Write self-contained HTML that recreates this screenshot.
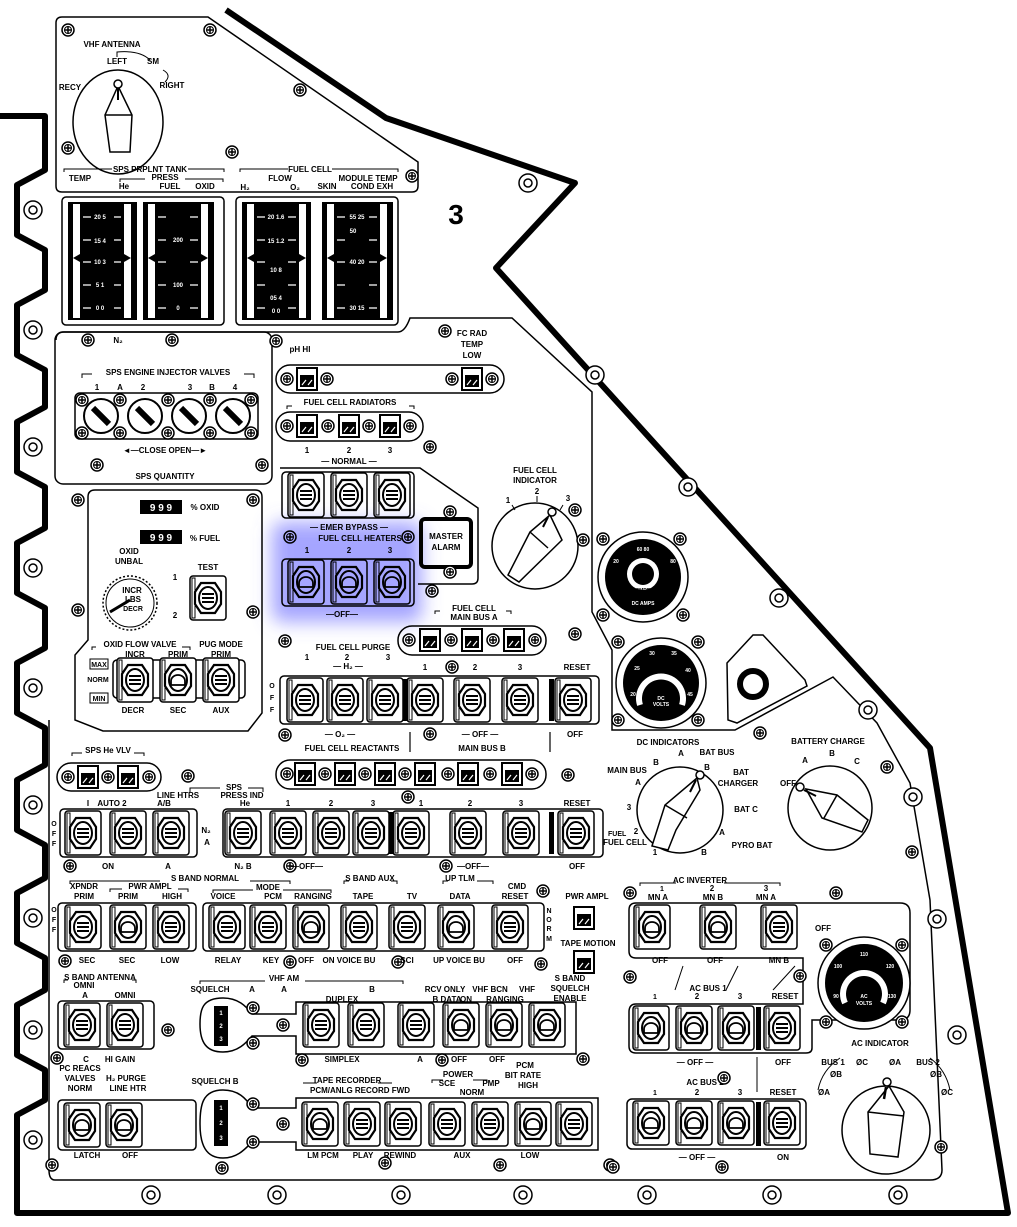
<!DOCTYPE html>
<html><head><meta charset="utf-8"><style>
html,body{margin:0;padding:0;background:#fff;}
svg{display:block}
text{font-family:"Liberation Sans",sans-serif;font-weight:bold;font-size:8px;fill:#000;text-anchor:middle}
.s{font-size:7px}
</style></head><body>
<svg width="1017" height="1227" viewBox="0 0 1017 1227" xmlns="http://www.w3.org/2000/svg">
<defs>
<g id="tg"><rect x="-18" y="-22" width="36" height="44" rx="3" fill="#fff" stroke="#000" stroke-width="1.5"/><rect x="-16" y="-20" width="3" height="40" fill="none" stroke="#000" stroke-width="1"/><polygon points="-7,-15 7,-15 13,-6 13,6 7,15 -7,15 -13,6 -13,-6" fill="#fff" stroke="#000" stroke-width="2.2"/><ellipse rx="9" ry="11" fill="none" stroke="#000" stroke-width="2"/><path d="M-6,-4h12M-6,0h12M-6,4h12" stroke="#000" stroke-width="2"/></g>
<g id="tl"><rect x="-18" y="-22" width="36" height="44" rx="3" fill="#fff" stroke="#000" stroke-width="1.5"/><rect x="-16" y="-20" width="3" height="40" fill="none" stroke="#000" stroke-width="1"/><polygon points="-7,-15 7,-15 13,-6 13,6 7,15 -7,15 -13,6 -13,-6" fill="#fff" stroke="#000" stroke-width="2.2"/><ellipse rx="9" ry="11" fill="none" stroke="#000" stroke-width="2"/><path d="M-7,5h14v-4a7,6 0 0 0 -14,0z" fill="#fff" stroke="#000" stroke-width="1.8"/></g>
<g id="ind"><rect x="-10" y="-11" width="20" height="22" fill="#fff" stroke="#000" stroke-width="2"/><rect x="-7" y="-4" width="14" height="12" fill="#000"/><path d="M-5,6l4,-5M1,6l4,-5" stroke="#fff" stroke-width="1.2"/></g>
<g id="sp"><circle r="6" fill="#fff" stroke="#000" stroke-width="1.5"/><circle r="3.5" fill="none" stroke="#000" stroke-width="1"/><path d="M-3,0h6M0,-3v6" stroke="#000" stroke-width="1.5"/></g>
<g id="sr"><circle r="9" fill="#fff" stroke="#000" stroke-width="1.5"/><circle r="4" fill="none" stroke="#000" stroke-width="1.5"/></g>
<filter id="bl" x="-30%" y="-30%" width="160%" height="160%"><feGaussianBlur stdDeviation="9"/></filter>
</defs>

<path d="M0,116 L45,116 L45,170 L17,185 L17,235 L45,250 L45,290 L17,305 L17,355 L45,370 L45,407 L17,422 L17,472 L45,487 L45,528 L17,543 L17,593 L45,608 L45,648 L17,663 L17,713 L45,728 L45,765 L17,780 L17,830 L45,845 L45,878 L17,893 L17,943 L45,958 L45,990 L17,1005 L17,1055 L45,1070 L45,1100 L17,1115 L17,1213 L1008,1213 L930,748 L496,268 L575,183 L386,118 L226,10" fill="none" stroke="#000" stroke-width="6" stroke-linejoin="round"/>

<path d="M62,17 H208 L418,162 V186 Q418,192 412,192 H62 Q56,192 56,186 V23 Q56,17 62,17Z" fill="none" stroke="#000" stroke-width="1.5"/>
<rect x="62" y="197" width="162" height="128" rx="4" fill="none" stroke="#000" stroke-width="1.5"/>
<rect x="236" y="197" width="162" height="128" rx="4" fill="none" stroke="#000" stroke-width="1.5"/>
<path d="M56,340 Q56,332 64,332 H398 Q405,332 410,318 H512 L592,392 V612 L612,650 V730 H735 L833,677 L877,723 L910,783 L930,900 L942,1170 Q942,1180 930,1180 H55 Q49,1180 49,1170 V720" fill="none" stroke="#000" stroke-width="1.5"/>
<rect x="55" y="332" width="217" height="152" rx="8" fill="none" stroke="#000" stroke-width="1.5"/>
<path d="M95,490 H255 Q262,490 262,497 V713 L248,731 H103 L75,720 V655 L88,640 V497 Q88,490 95,490Z" fill="none" stroke="#000" stroke-width="1.5"/>
<path d="M280,468 H420 L478,508 V578 Q478,584 472,584 H418" fill="none" stroke="#000" stroke-width="1.5"/>
<path d="M727,663 L753,635 L763,635 L805,680 L807,686 L737,723 L728,720Z" fill="none" stroke="#000" stroke-width="1.5"/>
<circle cx="753" cy="684" r="13" fill="none" stroke="#000" stroke-width="6"/>

<text x="112" y="47">VHF ANTENNA</text>
<text x="117" y="64">LEFT</text><text x="153" y="64">SM</text><text x="70" y="90">RECY</text><text x="172" y="88">RIGHT</text>
<path d="M117,57 V52 Q140,50 150,60 M163,70 Q172,75 165,82" fill="none" stroke="#000" stroke-width="1"/>
<ellipse cx="118" cy="122" rx="45" ry="52" fill="#fff" stroke="#000" stroke-width="1.5"/>
<path d="M118,86 L132,115 L130,152 L110,152 L105,115Z M105,115 H132" fill="#fff" stroke="#000" stroke-width="1.5"/>
<circle cx="118" cy="84" r="4" fill="#fff" stroke="#000" stroke-width="1.5"/><path d="M118,88v12" stroke="#000" stroke-width="2"/>
<use href="#sp" x="68" y="30"/><use href="#sp" x="210" y="30"/><use href="#sp" x="68" y="148"/><use href="#sp" x="232" y="152"/><use href="#sp" x="300" y="90"/><use href="#sp" x="412" y="176"/>
<text x="150" y="172">SPS PRPLNT TANK</text><path d="M64,172v-3h48 M188,169h36v3" fill="none" stroke="#000"/>
<text x="80" y="181">TEMP</text><text x="165" y="180">PRESS</text><path d="M120,182v-3h25 M185,179h38v3" fill="none" stroke="#000"/>
<text x="124" y="189">He</text><text x="170" y="189">FUEL</text><text x="205" y="189">OXID</text>
<text x="310" y="172">FUEL CELL</text><path d="M240,172v-3h48 M332,169h66v3" fill="none" stroke="#000"/>
<text x="280" y="181">FLOW</text><text x="368" y="181">MODULE TEMP</text>
<text x="245" y="190">H₂</text><text x="295" y="190">O₂</text><text x="327" y="189">SKIN</text><text x="372" y="189">COND EXH</text>
<text x="456" y="224" style="font-size:28px">3</text>

<g>
<rect x="68" y="202" width="69" height="118" fill="#000"/><rect x="73" y="204" width="7" height="114" fill="#fff"/><rect x="124" y="204" width="7" height="114" fill="#fff"/>
<rect x="143" y="202" width="71" height="118" fill="#000"/><rect x="148" y="204" width="7" height="114" fill="#fff"/><rect x="201" y="204" width="7" height="114" fill="#fff"/>
<rect x="242" y="202" width="69" height="118" fill="#000"/><rect x="247" y="204" width="7" height="114" fill="#fff"/><rect x="299" y="204" width="7" height="114" fill="#fff"/>
<rect x="322" y="202" width="71" height="118" fill="#000"/><rect x="327" y="204" width="7" height="114" fill="#fff"/><rect x="380" y="204" width="7" height="114" fill="#fff"/>
<g stroke="#fff" stroke-width="1.2">
<path d="M83,217h8M83,240h8M83,262h8M83,285h8M83,308h8M114,217h7M114,240h7M114,262h7M114,285h7M114,308h7"/>
<path d="M158,217h8M158,240h8M158,262h8M158,285h8M158,308h8M190,217h8M190,240h8M190,262h8M190,285h8M190,308h8"/>
<path d="M257,217h8M257,240h8M257,262h8M257,285h8M257,308h8M288,217h8M288,240h8M288,262h8M288,285h8M288,308h8"/>
<path d="M337,217h8M337,240h8M337,262h8M337,285h8M337,308h8M369,217h8M369,240h8M369,262h8M369,285h8M369,308h8"/>
</g>
<text x="100" y="219" style="font-size:6px;fill:#fff">20  5</text><text x="100" y="243" style="font-size:6px;fill:#fff">15  4</text><text x="100" y="264" style="font-size:6px;fill:#fff">10  3</text><text x="100" y="287" style="font-size:6px;fill:#fff">5  1</text><text x="100" y="310" style="font-size:6px;fill:#fff">0  0</text>
<text x="178" y="242" style="font-size:6px;fill:#fff">200</text><text x="178" y="287" style="font-size:6px;fill:#fff">100</text><text x="178" y="310" style="font-size:6px;fill:#fff">0</text>
<text x="276" y="219" style="font-size:6px;fill:#fff">20 1.6</text><text x="276" y="243" style="font-size:6px;fill:#fff">15 1.2</text><text x="276" y="272" style="font-size:6px;fill:#fff">10  8</text><text x="276" y="300" style="font-size:6px;fill:#fff">05  4</text><text x="276" y="313" style="font-size:6px;fill:#fff">0  0</text>
<text x="357" y="219" style="font-size:6px;fill:#fff">55 25</text><text x="353" y="233" style="font-size:6px;fill:#fff">50</text><text x="357" y="264" style="font-size:6px;fill:#fff">40 20</text><text x="357" y="310" style="font-size:6px;fill:#fff">30 15</text>
<path d="M73,258l7,-4v8z M131,258l-7,-4v8z M148,258l7,-4v8z M208,258l-7,-4v8z M247,258l7,-4v8z M306,258l-7,-4v8z M327,258l7,-4v8z M387,258l-7,-4v8z" fill="#000"/>
</g>

<use href="#sr" x="528" y="183"/><use href="#sr" x="595" y="375"/><use href="#sr" x="688" y="487"/><use href="#sr" x="779" y="598"/><use href="#sr" x="868" y="710"/><use href="#sr" x="913" y="797"/><use href="#sr" x="937" y="919"/><use href="#sr" x="957" y="1035"/>
<use href="#sr" x="33" y="210"/><use href="#sr" x="33" y="330"/><use href="#sr" x="33" y="447"/><use href="#sr" x="33" y="568"/><use href="#sr" x="33" y="688"/><use href="#sr" x="33" y="805"/><use href="#sr" x="33" y="918"/><use href="#sr" x="33" y="1030"/><use href="#sr" x="33" y="1140"/>
<use href="#sr" x="151" y="1195"/><use href="#sr" x="277" y="1195"/><use href="#sr" x="401" y="1195"/><use href="#sr" x="523" y="1195"/><use href="#sr" x="647" y="1195"/><use href="#sr" x="772" y="1195"/><use href="#sr" x="898" y="1195"/>

<text x="118" y="343">N₂</text>
<use href="#sp" x="88" y="340"/><use href="#sp" x="172" y="340"/><use href="#sp" x="276" y="341"/>
<text x="168" y="375">SPS ENGINE INJECTOR VALVES</text><path d="M82,378v-4h10 M244,374h10v4" fill="none" stroke="#000"/>
<text x="97" y="390">1</text><text x="120" y="390">A</text><text x="143" y="390">2</text><text x="190" y="390">3</text><text x="212" y="390">B</text><text x="235" y="390">4</text>
<rect x="75" y="393" width="183" height="46" rx="5" fill="none" stroke="#000" stroke-width="1.5"/>
<g fill="#fff" stroke="#000" stroke-width="2">
<circle cx="101" cy="416" r="17"/><circle cx="145" cy="416" r="17"/><circle cx="189" cy="416" r="17"/><circle cx="233" cy="416" r="17"/>
</g>
<path d="M93,408l16,16M137,408l16,16M181,408l16,16M225,408l16,16" stroke="#000" stroke-width="6"/>
<use href="#sp" x="82" y="400"/><use href="#sp" x="120" y="400"/><use href="#sp" x="82" y="433"/><use href="#sp" x="120" y="433"/><use href="#sp" x="168" y="400"/><use href="#sp" x="210" y="400"/><use href="#sp" x="168" y="433"/><use href="#sp" x="251" y="400"/><use href="#sp" x="251" y="433"/><use href="#sp" x="210" y="433"/>
<text x="165" y="453">◄—CLOSE    OPEN—►</text>
<use href="#sp" x="97" y="465"/><use href="#sp" x="262" y="465"/>
<text x="165" y="479">SPS QUANTITY</text>

<use href="#sp" x="78" y="500"/><use href="#sp" x="253" y="500"/><use href="#sp" x="78" y="610"/><use href="#sp" x="253" y="612"/>
<rect x="140" y="500" width="42" height="14" fill="#000"/><text x="161" y="511" style="fill:#fff;font-size:10px">9 9 9</text><text x="205" y="510">% OXID</text>
<rect x="140" y="530" width="42" height="14" fill="#000"/><text x="161" y="541" style="fill:#fff;font-size:10px">9 9 9</text><text x="205" y="541">% FUEL</text>
<text x="129" y="554">OXID</text><text x="129" y="564">UNBAL</text>
<circle cx="130" cy="603" r="27" fill="#fff" stroke="#000" stroke-width="1.5" stroke-dasharray="2 2"/>
<circle cx="130" cy="603" r="24" fill="none" stroke="#000" stroke-width="1"/>
<text x="132" y="593">INCR</text><text x="133" y="602">LBS</text><text x="133" y="611" style="font-size:7px">DECR</text>
<path d="M110,612L130,600" stroke="#000" stroke-width="3"/>
<text x="208" y="570">TEST</text><text x="175" y="580">1</text><text x="175" y="618">2</text>
<use href="#tg" x="208" y="598"/>
<text x="140" y="647">OXID FLOW VALVE</text><text x="221" y="647">PUG MODE</text><path d="M92,650v-3h4 M182,647h8v3" fill="none" stroke="#000"/>
<text x="135" y="657">INCR</text><text x="178" y="657">PRIM</text><text x="221" y="657">PRIM</text>
<rect x="113" y="660" width="132" height="38" rx="4" fill="none" stroke="#000" stroke-width="1.5"/>
<use href="#tg" x="135" y="680"/><use href="#tl" x="178" y="680"/><use href="#tg" x="221" y="680"/>
<rect x="90" y="659" width="18" height="10" fill="#fff" stroke="#000"/><text x="99" y="667" style="font-size:7px">MAX</text><text x="98" y="682" style="font-size:7px">NORM</text><rect x="90" y="693" width="18" height="10" fill="#fff" stroke="#000"/><text x="99" y="701" style="font-size:7px">MIN</text>
<text x="133" y="713">DECR</text><text x="178" y="713">SEC</text><text x="221" y="713">AUX</text>

<text x="300" y="352">pH HI</text><text x="472" y="336">FC RAD</text><text x="472" y="347">TEMP</text><text x="472" y="358">LOW</text>
<use href="#sp" x="445" y="331"/>
<rect x="276" y="365" width="228" height="28" rx="14" fill="none" stroke="#000" stroke-width="1.5"/>
<use href="#sp" x="287" y="379"/><use href="#ind" x="307" y="379"/><use href="#sp" x="327" y="379"/><use href="#sp" x="452" y="379"/><use href="#ind" x="472" y="379"/><use href="#sp" x="492" y="379"/>
<text x="350" y="405">FUEL CELL RADIATORS</text><path d="M287,409v-3h5 M409,406h5v3" fill="none" stroke="#000"/>
<rect x="276" y="412" width="147" height="29" rx="14" fill="none" stroke="#000" stroke-width="1.5"/>
<use href="#sp" x="287" y="426"/><use href="#ind" x="307" y="426"/><use href="#sp" x="328" y="426"/><use href="#ind" x="349" y="426"/><use href="#sp" x="369" y="426"/><use href="#ind" x="390" y="426"/><use href="#sp" x="410" y="426"/>
<use href="#sp" x="430" y="447"/>
<text x="307" y="453">1</text><text x="349" y="453">2</text><text x="390" y="453">3</text>
<text x="349" y="464">— NORMAL —</text>
<rect x="282" y="472" width="132" height="46" rx="4" fill="none" stroke="#000" stroke-width="1.5"/>
<use href="#tg" x="306" y="495"/><use href="#tg" x="349" y="495"/><use href="#tg" x="392" y="495"/>
<text x="349" y="530">— EMER BYPASS —</text><text x="360" y="541">FUEL CELL HEATERS</text>
<use href="#sp" x="290" y="537"/><use href="#sp" x="408" y="537"/>
<text x="307" y="553">1</text><text x="349" y="553">2</text><text x="390" y="553">3</text>
<rect x="282" y="559" width="132" height="47" rx="4" fill="none" stroke="#000" stroke-width="1.5"/>
<use href="#tl" x="306" y="582"/><use href="#tl" x="349" y="582"/><use href="#tl" x="392" y="582"/>
<text x="342" y="617">—OFF—</text>
<rect x="421" y="519" width="50" height="48" rx="4" fill="#fff" stroke="#000" stroke-width="4"/>
<text x="446" y="539">MASTER</text><text x="446" y="550">ALARM</text>
<use href="#sp" x="450" y="512"/><use href="#sp" x="450" y="572"/><use href="#sp" x="432" y="591"/>
<text x="474" y="611">FUEL CELL</text><text x="474" y="620">MAIN BUS A</text><path d="M435,614v-3h5 M506,611h5v3" fill="none" stroke="#000"/>
<rect x="398" y="626" width="148" height="29" rx="14" fill="none" stroke="#000" stroke-width="1.5"/>
<use href="#sp" x="409" y="640"/><use href="#ind" x="430" y="640"/><use href="#sp" x="451" y="640"/><use href="#ind" x="472" y="640"/><use href="#sp" x="493" y="640"/><use href="#ind" x="514" y="640"/><use href="#sp" x="535" y="640"/>
<use href="#sp" x="285" y="641"/><use href="#sp" x="575" y="634"/>
<text x="353" y="650">FUEL CELL PURGE</text>
<text x="307" y="660">1</text><text x="347" y="660">2</text><text x="388" y="660">3</text><text x="348" y="669">— H₂ —</text>
<text x="425" y="670">1</text><use href="#sp" x="452" y="667"/><text x="475" y="670">2</text><text x="520" y="670">3</text><text x="577" y="670">RESET</text>
<text x="272" y="688" class="s">O</text><text x="272" y="700" class="s">F</text><text x="272" y="712" class="s">F</text>
<rect x="280" y="676" width="319" height="48" rx="4" fill="none" stroke="#000" stroke-width="1.5"/>
<use href="#tg" x="305" y="700"/><use href="#tg" x="345" y="700"/><use href="#tg" x="385" y="700"/><use href="#tg" x="425" y="700"/><use href="#tg" x="472" y="700"/><use href="#tg" x="520" y="700"/><use href="#tg" x="573" y="700"/>
<rect x="403" y="679" width="5" height="42" fill="#000"/><rect x="549" y="679" width="5" height="42" fill="#000"/>
<use href="#sp" x="285" y="735"/><use href="#sp" x="430" y="734"/>
<text x="340" y="737">— O₂ —</text><text x="352" y="751">FUEL CELL REACTANTS</text>
<text x="480" y="737">— OFF —</text><text x="482" y="751">MAIN BUS B</text><text x="575" y="737">OFF</text>
<path d="M410,732v20M550,732v20" stroke="#000" stroke-width="1.2"/>
<rect x="276" y="760" width="270" height="29" rx="14" fill="none" stroke="#000" stroke-width="1.5"/>
<use href="#sp" x="287" y="774"/><use href="#ind" x="305" y="774"/><use href="#sp" x="325" y="774"/><use href="#ind" x="345" y="774"/><use href="#sp" x="365" y="774"/><use href="#ind" x="385" y="774"/><use href="#sp" x="405" y="774"/><use href="#ind" x="425" y="774"/><use href="#sp" x="448" y="774"/><use href="#ind" x="468" y="774"/><use href="#sp" x="490" y="774"/><use href="#ind" x="512" y="774"/><use href="#sp" x="532" y="774"/>
<use href="#sp" x="568" y="775"/>

<text x="535" y="473">FUEL CELL</text><text x="535" y="483">INDICATOR</text>
<text x="508" y="503">1</text><text x="537" y="494">2</text><text x="568" y="501">3</text>
<circle cx="535" cy="546" r="43" fill="#fff" stroke="#000" stroke-width="1.5"/>
<path d="M512,505l3,5M537,496v6M563,505l-3,5" stroke="#000"/>
<path d="M550,515 L562,540 L519,582 L508,575 L530,532Z M530,532 L548,548" fill="#fff" stroke="#000" stroke-width="1.5"/>
<circle cx="552" cy="512" r="4" fill="#fff" stroke="#000" stroke-width="1.5"/><path d="M548,517l-5,10" stroke="#000" stroke-width="2"/>
<use href="#sp" x="575" y="510"/><use href="#sp" x="583" y="540"/>

<use href="#sp" x="603" y="539"/><use href="#sp" x="680" y="539"/><use href="#sp" x="603" y="615"/><use href="#sp" x="683" y="615"/>
<circle cx="643" cy="577" r="45" fill="#fff" stroke="#000" stroke-width="1.5"/><circle cx="643" cy="577" r="38" fill="#000"/>
<circle cx="643" cy="574" r="16" fill="#fff"/><circle cx="643" cy="574" r="11" fill="#000"/>
<text x="643" y="551" style="fill:#fff;font-size:5px">60  80</text><text x="616" y="563" style="fill:#fff;font-size:5px">20</text><text x="673" y="563" style="fill:#fff;font-size:5px">80</text><text x="643" y="605" style="fill:#fff;font-size:5px">DC AMPS</text><text x="643" y="592" style="fill:#000;font-size:5px">CMRB</text>
<use href="#sp" x="618" y="642"/><use href="#sp" x="698" y="642"/><use href="#sp" x="618" y="720"/><use href="#sp" x="698" y="720"/>
<circle cx="661" cy="683" r="45" fill="#fff" stroke="#000" stroke-width="1.5"/><circle cx="661" cy="683" r="38" fill="#000"/>
<path d="M640,705 A22,22 0 1 1 682,705" fill="none" stroke="#fff" stroke-width="6"/>
<text x="661" y="700" style="fill:#fff;font-size:5px">DC</text><text x="661" y="706" style="fill:#fff;font-size:5px">VOLTS</text>
<text x="652" y="655" style="fill:#fff;font-size:5px">30</text><text x="674" y="655" style="fill:#fff;font-size:5px">35</text><text x="637" y="670" style="fill:#fff;font-size:5px">25</text><text x="688" y="672" style="fill:#fff;font-size:5px">40</text><text x="633" y="696" style="fill:#fff;font-size:5px">20</text><text x="690" y="696" style="fill:#fff;font-size:5px">45</text>

<use href="#sp" x="760" y="733"/><use href="#sp" x="887" y="767"/><use href="#sp" x="912" y="852"/>
<text x="668" y="745">DC INDICATORS</text>
<text x="717" y="755">BAT BUS</text><text x="681" y="756">A</text><text x="656" y="765">B</text><text x="627" y="773">MAIN BUS</text><text x="638" y="785">A</text><text x="707" y="770">B</text>
<text x="741" y="775">BAT</text><text x="738" y="786">CHARGER</text><text x="629" y="810">3</text><text x="746" y="812">BAT C</text>
<text x="636" y="834">2</text><text x="625" y="845">FUEL CELL</text><text x="655" y="855">1</text><text x="722" y="835">A</text><text x="752" y="848">PYRO BAT</text><text x="704" y="855">B</text>
<circle cx="680" cy="810" r="43" fill="#fff" stroke="#000" stroke-width="1.5"/>
<path d="M697,778 L700,790 L676,830 L668,850 L652,846 L665,805Z M665,805 L687,818" fill="#fff" stroke="#000" stroke-width="1.5"/>
<circle cx="700" cy="775" r="4" fill="#fff" stroke="#000" stroke-width="1.5"/><path d="M696,780l-6,12" stroke="#000" stroke-width="2"/>
<text x="828" y="744">BATTERY CHARGE</text><text x="805" y="763">A</text><text x="832" y="756">B</text><text x="857" y="764">C</text><text x="788" y="786">OFF</text>
<circle cx="830" cy="808" r="42" fill="#fff" stroke="#000" stroke-width="1.5"/>
<path d="M806,789 L837,795 L868,820 L862,832 L822,818Z M837,795 L824,818" fill="#fff" stroke="#000" stroke-width="1.5"/>
<circle cx="800" cy="787" r="4" fill="#fff" stroke="#000" stroke-width="1.5"/><path d="M804,790l12,6" stroke="#000" stroke-width="2"/>

<text x="108" y="753">SPS He VLV</text><path d="M72,756v-3h10 M134,753h10v3" fill="none" stroke="#000"/>
<rect x="57" y="763" width="104" height="28" rx="14" fill="none" stroke="#000" stroke-width="1.5"/>
<use href="#sp" x="68" y="777"/><use href="#ind" x="88" y="777"/><use href="#sp" x="108" y="777"/><use href="#ind" x="128" y="777"/><use href="#sp" x="149" y="777"/>
<use href="#sp" x="188" y="776"/>
<text x="234" y="790">SPS</text><path d="M190,792v-4h30 M248,788h15v4" fill="none" stroke="#000"/>
<text x="178" y="798">LINE HTRS</text><text x="164" y="806">A/B</text><text x="242" y="798">PRESS IND</text><text x="245" y="806">He</text>
<text x="88" y="806">I</text><text x="112" y="806">AUTO 2</text>
<text x="288" y="806">1</text><text x="331" y="806">2</text><text x="373" y="806">3</text><use href="#sp" x="408" y="797"/><text x="421" y="806">1</text><text x="470" y="806">2</text><text x="521" y="806">3</text><text x="577" y="806">RESET</text>
<text x="54" y="826" class="s">O</text><text x="54" y="836" class="s">F</text><text x="54" y="846" class="s">F</text>
<rect x="60" y="809" width="137" height="48" rx="4" fill="none" stroke="#000" stroke-width="1.5"/>
<use href="#tg" x="83" y="833"/><use href="#tg" x="128" y="833"/><use href="#tg" x="171" y="833"/>
<text x="206" y="833">N₂</text><text x="207" y="845">A</text>
<rect x="223" y="809" width="380" height="48" rx="4" fill="none" stroke="#000" stroke-width="1.5"/>
<use href="#tg" x="243" y="833"/><use href="#tg" x="288" y="833"/><use href="#tg" x="331" y="833"/><use href="#tg" x="371" y="833"/><use href="#tg" x="411" y="833"/><use href="#tg" x="468" y="833"/><use href="#tg" x="521" y="833"/><use href="#tg" x="576" y="833"/>
<rect x="389" y="812" width="5" height="42" fill="#000"/><rect x="549" y="812" width="5" height="42" fill="#000"/>
<text x="608" y="836" class="s" style="text-anchor:start">FUEL</text>
<use href="#sp" x="70" y="866"/><text x="108" y="869">ON</text><text x="168" y="869">A</text><text x="243" y="869">N₂ B</text><use href="#sp" x="290" y="866"/><text x="307" y="869">—OFF—</text><use href="#sp" x="446" y="866"/><text x="473" y="869">—OFF—</text><text x="577" y="869">OFF</text>

<text x="205" y="881">S BAND NORMAL</text><path d="M70,884v-3h90 M250,881h40v3" fill="none" stroke="#000"/>
<text x="84" y="889">XPNDR</text><text x="84" y="899">PRIM</text><text x="150" y="889">PWR AMPL</text><path d="M110,892v-3h12 M178,889h10v3" fill="none" stroke="#000"/><text x="128" y="899">PRIM</text><text x="172" y="899">HIGH</text>
<text x="268" y="890">MODE</text><path d="M213,893v-3h40 M283,890h48v3" fill="none" stroke="#000"/>
<text x="223" y="899">VOICE</text><text x="273" y="899">PCM</text><text x="313" y="899">RANGING</text>
<text x="370" y="881">S BAND AUX</text><path d="M344,884v-3h5 M391,881h6v3" fill="none" stroke="#000"/><text x="363" y="899">TAPE</text><text x="412" y="899">TV</text>
<text x="460" y="881">UP TLM</text><path d="M443,884v-3h5 M477,881h16v3" fill="none" stroke="#000"/><text x="460" y="899">DATA</text><text x="517" y="889">CMD</text><text x="515" y="899">RESET</text><use href="#sp" x="543" y="891"/>
<text x="54" y="912" class="s">O</text><text x="54" y="922" class="s">F</text><text x="54" y="932" class="s">F</text>
<rect x="58" y="903" width="138" height="48" rx="4" fill="none" stroke="#000" stroke-width="1.5"/>
<use href="#tg" x="83" y="927"/><use href="#tl" x="128" y="927"/><use href="#tg" x="171" y="927"/>
<rect x="203" y="903" width="341" height="48" rx="4" fill="none" stroke="#000" stroke-width="1.5"/>
<use href="#tg" x="227" y="927"/><use href="#tg" x="268" y="927"/><use href="#tl" x="311" y="927"/><use href="#tg" x="359" y="927"/><use href="#tg" x="407" y="927"/><use href="#tl" x="456" y="927"/><use href="#tg" x="510" y="927"/>
<text x="549" y="913" class="s">N</text><text x="549" y="922" class="s">O</text><text x="549" y="931" class="s">R</text><text x="549" y="941" class="s">M</text>
<text x="587" y="899">PWR AMPL</text><use href="#ind" x="584" y="918"/><text x="588" y="946">TAPE MOTION</text><use href="#ind" x="584" y="962"/>
<use href="#sp" x="65" y="961"/><text x="87" y="963">SEC</text><text x="127" y="963">SEC</text><text x="170" y="963">LOW</text>
<text x="228" y="963">RELAY</text><text x="271" y="963">KEY</text><use href="#sp" x="290" y="962"/><text x="306" y="963">OFF</text><text x="349" y="963">ON VOICE BU</text><use href="#sp" x="398" y="962"/><text x="407" y="963">SCI</text><text x="459" y="963">UP VOICE BU</text><text x="515" y="963">OFF</text><use href="#sp" x="541" y="964"/>

<text x="100" y="980">S BAND ANTENNA</text><path d="M64,983v-3h4 M132,980h4v3" fill="none" stroke="#000"/><text x="84" y="988">OMNI</text>
<text x="85" y="998">A</text><text x="125" y="998">OMNI</text>
<rect x="58" y="1001" width="96" height="48" rx="4" fill="none" stroke="#000" stroke-width="1.5"/>
<use href="#tg" x="82" y="1025"/><use href="#tg" x="125" y="1025"/><use href="#sp" x="168" y="1030"/>
<text x="284" y="981">VHF AM</text><path d="M200,984v-3h65 M305,981h98v3" fill="none" stroke="#000"/>
<text x="210" y="992">SQUELCH</text><text x="252" y="992">A</text><text x="284" y="992">A</text><text x="372" y="992">B</text><text x="445" y="992">RCV ONLY</text><text x="490" y="992">VHF BCN</text><text x="527" y="992">VHF</text>
<text x="570" y="981">S BAND</text><text x="570" y="991">SQUELCH</text><text x="570" y="1001">ENABLE</text>
<text x="342" y="1002">DUPLEX</text><text x="447" y="1002">B DATA</text><text x="466" y="1002">ON</text><text x="505" y="1002">RANGING</text>
<path d="M223,998 C202,998 200,1010 200,1024 C200,1042 206,1052 223,1052 C238,1052 246,1043 252,1036 L296,1036 L296,1054 L576,1054 L576,1002 L296,1002 L296,1014 L252,1014 C246,1006 238,998 223,998Z" fill="none" stroke="#000" stroke-width="1.5"/>
<rect x="214" y="1006" width="14" height="40" fill="#000"/><text x="221" y="1015" style="fill:#fff;font-size:6px">1</text><text x="221" y="1028" style="fill:#fff;font-size:6px">2</text><text x="221" y="1041" style="fill:#fff;font-size:6px">3</text>
<use href="#sp" x="253" y="1008"/><use href="#sp" x="283" y="1025"/><use href="#sp" x="253" y="1043"/>
<use href="#tg" x="321" y="1025"/><use href="#tg" x="366" y="1025"/><use href="#tg" x="416" y="1025"/><use href="#tl" x="461" y="1025"/><use href="#tl" x="504" y="1025"/><use href="#tl" x="547" y="1025"/>
<use href="#sp" x="57" y="1058"/><text x="86" y="1062">C</text><text x="120" y="1062">HI GAIN</text><use href="#sp" x="302" y="1060"/><text x="342" y="1062">SIMPLEX</text><text x="420" y="1062">A</text><use href="#sp" x="442" y="1060"/><text x="459" y="1062">OFF</text><text x="497" y="1062">OFF</text><use href="#sp" x="583" y="1059"/>
<text x="525" y="1068">PCM</text><text x="523" y="1078">BIT RATE</text><text x="528" y="1088">HIGH</text>
<text x="80" y="1071">PC REACS</text><text x="80" y="1081">VALVES</text><text x="80" y="1091">NORM</text><text x="126" y="1081">H₂ PURGE</text><text x="128" y="1091">LINE HTR</text>
<text x="215" y="1084">SQUELCH B</text>
<text x="347" y="1083">TAPE RECORDER</text><path d="M303,1083h14 M378,1083h14" stroke="#000"/><text x="360" y="1093">PCM/ANLG RECORD  FWD</text>
<text x="458" y="1077">POWER</text><path d="M432,1083v-3h11 M473,1080h14v3" fill="none" stroke="#000"/><text x="447" y="1086">SCE</text><text x="491" y="1086">PMP</text><text x="472" y="1095">NORM</text>
<rect x="58" y="1100" width="138" height="50" rx="4" fill="none" stroke="#000" stroke-width="1.5"/>
<use href="#tl" x="82" y="1125"/><use href="#tl" x="124" y="1125"/>
<path d="M223,1090 C202,1090 200,1106 200,1124 C200,1145 206,1158 223,1158 C238,1158 246,1148 252,1142 L296,1142 L296,1150 L598,1150 L598,1098 L296,1098 L296,1108 L252,1108 C246,1098 238,1090 223,1090Z" fill="none" stroke="#000" stroke-width="1.5"/>
<rect x="214" y="1100" width="14" height="46" fill="#000"/><text x="221" y="1110" style="fill:#fff;font-size:6px">1</text><text x="221" y="1125" style="fill:#fff;font-size:6px">2</text><text x="221" y="1140" style="fill:#fff;font-size:6px">3</text>
<use href="#sp" x="253" y="1104"/><use href="#sp" x="283" y="1124"/><use href="#sp" x="253" y="1142"/>
<use href="#tl" x="320" y="1124"/><use href="#tg" x="362" y="1124"/><use href="#tg" x="403" y="1124"/><use href="#tg" x="447" y="1124"/><use href="#tg" x="490" y="1124"/><use href="#tl" x="533" y="1124"/><use href="#tg" x="574" y="1124"/>
<text x="87" y="1158">LATCH</text><text x="130" y="1158">OFF</text><text x="323" y="1158">LM PCM</text><text x="363" y="1158">PLAY</text><text x="400" y="1158">REWIND</text><text x="462" y="1158">AUX</text><text x="530" y="1158">LOW</text>
<use href="#sp" x="52" y="1165"/><use href="#sp" x="222" y="1168"/><use href="#sp" x="385" y="1163"/><use href="#sp" x="500" y="1165"/><use href="#sp" x="610" y="1165"/>

<text x="700" y="883">AC INVERTER</text><path d="M640,886v-3h36 M724,883h56v3" fill="none" stroke="#000"/>
<text x="662" y="891" class="s">1</text><text x="712" y="891">2</text><text x="766" y="891">3</text>
<text x="658" y="900">MN A</text><text x="713" y="900">MN B</text><text x="766" y="900">MN A</text>
<use href="#sp" x="630" y="893"/><use href="#sp" x="836" y="893"/>
<path d="M636,903 H900 Q910,903 910,913 V1010 Q910,1020 900,1020 H812 V1048 Q812,1053 806,1053 H636 Q629,1053 629,1046 V1012 Q629,1004 636,1004 H803 V958 H636 Q629,958 629,951 V910 Q629,903 636,903Z" fill="none" stroke="#000" stroke-width="1.5"/>
<use href="#tl" x="652" y="927"/><use href="#tl" x="718" y="927"/><use href="#tg" x="779" y="927"/>
<text x="823" y="931">OFF</text>
<text x="660" y="963">OFF</text><text x="715" y="963">OFF</text><text x="779" y="963">MN B</text>
<path d="M683,966l-8,24M738,966l-12,24M795,966l-22,24" stroke="#000"/>
<text x="708" y="991">AC BUS 1</text><use href="#sp" x="630" y="977"/><use href="#sp" x="800" y="976"/>
<text x="655" y="999" class="s">1</text><text x="697" y="999">2</text><text x="740" y="999">3</text><text x="785" y="999">RESET</text>
<use href="#tl" x="651" y="1028"/><use href="#tl" x="694" y="1028"/><use href="#tl" x="736" y="1028"/><use href="#tg" x="782" y="1028"/>
<rect x="756" y="1007" width="5" height="43" fill="#000"/>
<use href="#sp" x="826" y="945"/><use href="#sp" x="902" y="945"/><use href="#sp" x="826" y="1022"/><use href="#sp" x="902" y="1022"/>
<circle cx="864" cy="983" r="46" fill="#fff" stroke="#000" stroke-width="1.5"/><circle cx="864" cy="983" r="39" fill="#000"/>
<path d="M845,1003 A21,21 0 1 1 883,1003" fill="none" stroke="#fff" stroke-width="6"/>
<text x="864" y="998" style="fill:#fff;font-size:5px">AC</text><text x="864" y="1005" style="fill:#fff;font-size:5px">VOLTS</text>
<text x="864" y="956" style="fill:#fff;font-size:5px">110</text><text x="838" y="968" style="fill:#fff;font-size:5px">100</text><text x="890" y="968" style="fill:#fff;font-size:5px">120</text><text x="836" y="998" style="fill:#fff;font-size:5px">90</text><text x="892" y="998" style="fill:#fff;font-size:5px">130</text>
<text x="695" y="1065">— OFF —</text><text x="783" y="1065">OFF</text><path d="M757,1057v35" stroke="#000"/>
<text x="705" y="1085">AC BUS 2</text><use href="#sp" x="724" y="1078"/>
<text x="655" y="1095" class="s">1</text><text x="697" y="1095">2</text><text x="740" y="1095">3</text><text x="783" y="1095">RESET</text>
<rect x="627" y="1099" width="179" height="50" rx="5" fill="none" stroke="#000" stroke-width="1.5"/>
<use href="#tl" x="651" y="1123"/><use href="#tl" x="694" y="1123"/><use href="#tl" x="736" y="1123"/><use href="#tg" x="782" y="1123"/>
<rect x="756" y="1102" width="5" height="44" fill="#000"/>
<text x="697" y="1160">— OFF —</text><text x="783" y="1160">ON</text>
<use href="#sp" x="613" y="1167"/><use href="#sp" x="722" y="1167"/><use href="#sp" x="941" y="1147"/>
<text x="880" y="1046">AC INDICATOR</text>
<text x="833" y="1065">BUS 1</text><text x="862" y="1065">ØC</text><text x="895" y="1065">ØA</text><text x="928" y="1065">BUS 2</text>
<text x="836" y="1077">ØB</text><text x="936" y="1077">ØB</text><text x="824" y="1095">ØA</text><text x="947" y="1095">ØC</text>
<path d="M818,1090 Q822,1070 840,1058 M950,1090 Q946,1070 930,1058" fill="none" stroke="#000"/>
<circle cx="886" cy="1130" r="44" fill="#fff" stroke="#000" stroke-width="1.5"/>
<path d="M889,1086 L904,1112 L898,1157 L870,1154 L868,1112Z M868,1112 L904,1116" fill="#fff" stroke="#000" stroke-width="1.5"/>
<circle cx="887" cy="1082" r="4" fill="#fff" stroke="#000" stroke-width="1.5"/><path d="M886,1087l-2,12" stroke="#000" stroke-width="2.5"/>

<rect x="272" y="522" width="150" height="100" rx="10" fill="#5a5aff" opacity="0.55" filter="url(#bl)" style="mix-blend-mode:multiply"/>
</svg>
</body></html>
